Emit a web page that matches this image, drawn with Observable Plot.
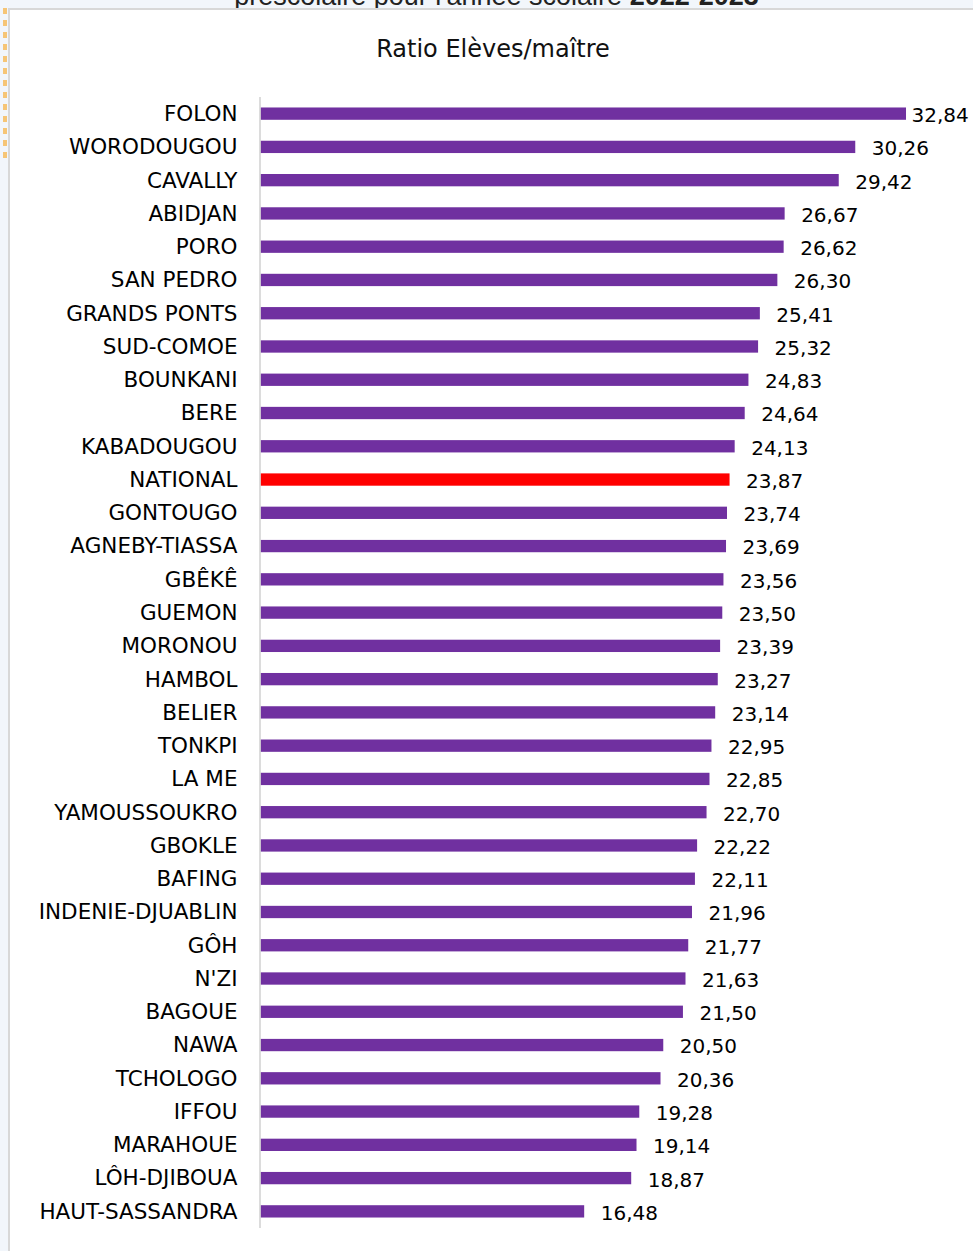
<!DOCTYPE html>
<html>
<head>
<meta charset="utf-8">
<script src="https://cdn.jsdelivr.net/npm/d3@7"></script>
<script src="https://cdn.jsdelivr.net/npm/@observablehq/plot@0.6"></script>
<style>
  html, body { margin: 0; padding: 0; }
  body { width: 973px; height: 1251px; background: #f2f6fb; position: relative; overflow: hidden; font-family: "DejaVu Sans", sans-serif; }
  #supertitle { position: absolute; left: 0; width: 993px; text-align: center; top: -19px; font-family: "Liberation Sans", Arial, sans-serif; font-size: 27px; color: #222; white-space: nowrap; }
  #frame { position: absolute; left: 8px; top: 8px; right: -4px; bottom: -4px; background: #fff; border-left: 2px solid #d8d8d8; border-top: 2px solid #d8d8d8; }
  #marks { position: absolute; left: 3px; top: 8px; width: 4px; height: 150px; background-image: linear-gradient(#f7b955 50%, transparent 50%); background-size: 4px 12px; opacity: 0.8; }
  #title { position: absolute; left: 0; width: 986px; text-align: center; top: 35px; font-size: 24px; color: #111; }
  #chart { position: absolute; left: 0; top: 0; }
</style>
</head>
<body>
<div id="supertitle">préscolaire pour l'année scolaire <b>2022-2023</b></div>
<div id="frame"></div>
<div id="marks"></div>
<div id="title">Ratio Elèves/maître</div>
<div id="chart"></div>
<script>
const regions = ["FOLON","WORODOUGOU","CAVALLY","ABIDJAN","PORO","SAN PEDRO","GRANDS PONTS","SUD-COMOE","BOUNKANI","BERE","KABADOUGOU","NATIONAL","GONTOUGO","AGNEBY-TIASSA","GBÊKÊ","GUEMON","MORONOU","HAMBOL","BELIER","TONKPI","LA ME","YAMOUSSOUKRO","GBOKLE","BAFING","INDENIE-DJUABLIN","GÔH","N'ZI","BAGOUE","NAWA","TCHOLOGO","IFFOU","MARAHOUE","LÔH-DJIBOUA","HAUT-SASSANDRA"];
const values = [32.84,30.26,29.42,26.67,26.62,26.30,25.41,25.32,24.83,24.64,24.13,23.87,23.74,23.69,23.56,23.50,23.39,23.27,23.14,22.95,22.85,22.70,22.22,22.11,21.96,21.77,21.63,21.50,20.50,20.36,19.28,19.14,18.87,16.48];
const highlight = "NATIONAL";

const data = regions.map((r, i) => ({region: r, value: values[i]}));
const maxValue = d3.max(values);
const fmt = v => v.toFixed(2).replace(".", ",");

const chart = Plot.plot({
  width: 973,
  height: 1251,
  marginTop: 97,
  marginBottom: 23,
  marginLeft: 260,
  marginRight: 24.5,
  style: {fontFamily: "DejaVu Sans, sans-serif", fontSize: "21.5px", background: "transparent", color: "#000"},
  x: {domain: [0, 35], axis: null},
  y: {domain: regions, round: false, paddingInner: 0.63, paddingOuter: 0.315, label: null, tickSize: 0, tickPadding: 23},
  color: {domain: [false, true], range: ["#7030A0", "#FF0000"]},
  marks: [
    Plot.barX(data, {x: "value", y: "region", fill: d => d.region === highlight, insetLeft: 0.5}),
    Plot.ruleX([0], {stroke: "#d0d0d0", strokeWidth: 1.5, dx: -0.5}),
    Plot.text(data.filter(d => d.value !== maxValue), {x: "value", y: "region", text: d => fmt(d.value), textAnchor: "start", dx: 16, dy: 1.5, fontSize: 20, fill: "#000"}),
    Plot.text(data.filter(d => d.value === maxValue), {x: "value", y: "region", text: d => fmt(d.value), textAnchor: "start", dx: 5, dy: 1.5, fontSize: 20, fill: "#000"})
  ]
});
document.getElementById("chart").appendChild(chart);
</script>
</body>
</html>
